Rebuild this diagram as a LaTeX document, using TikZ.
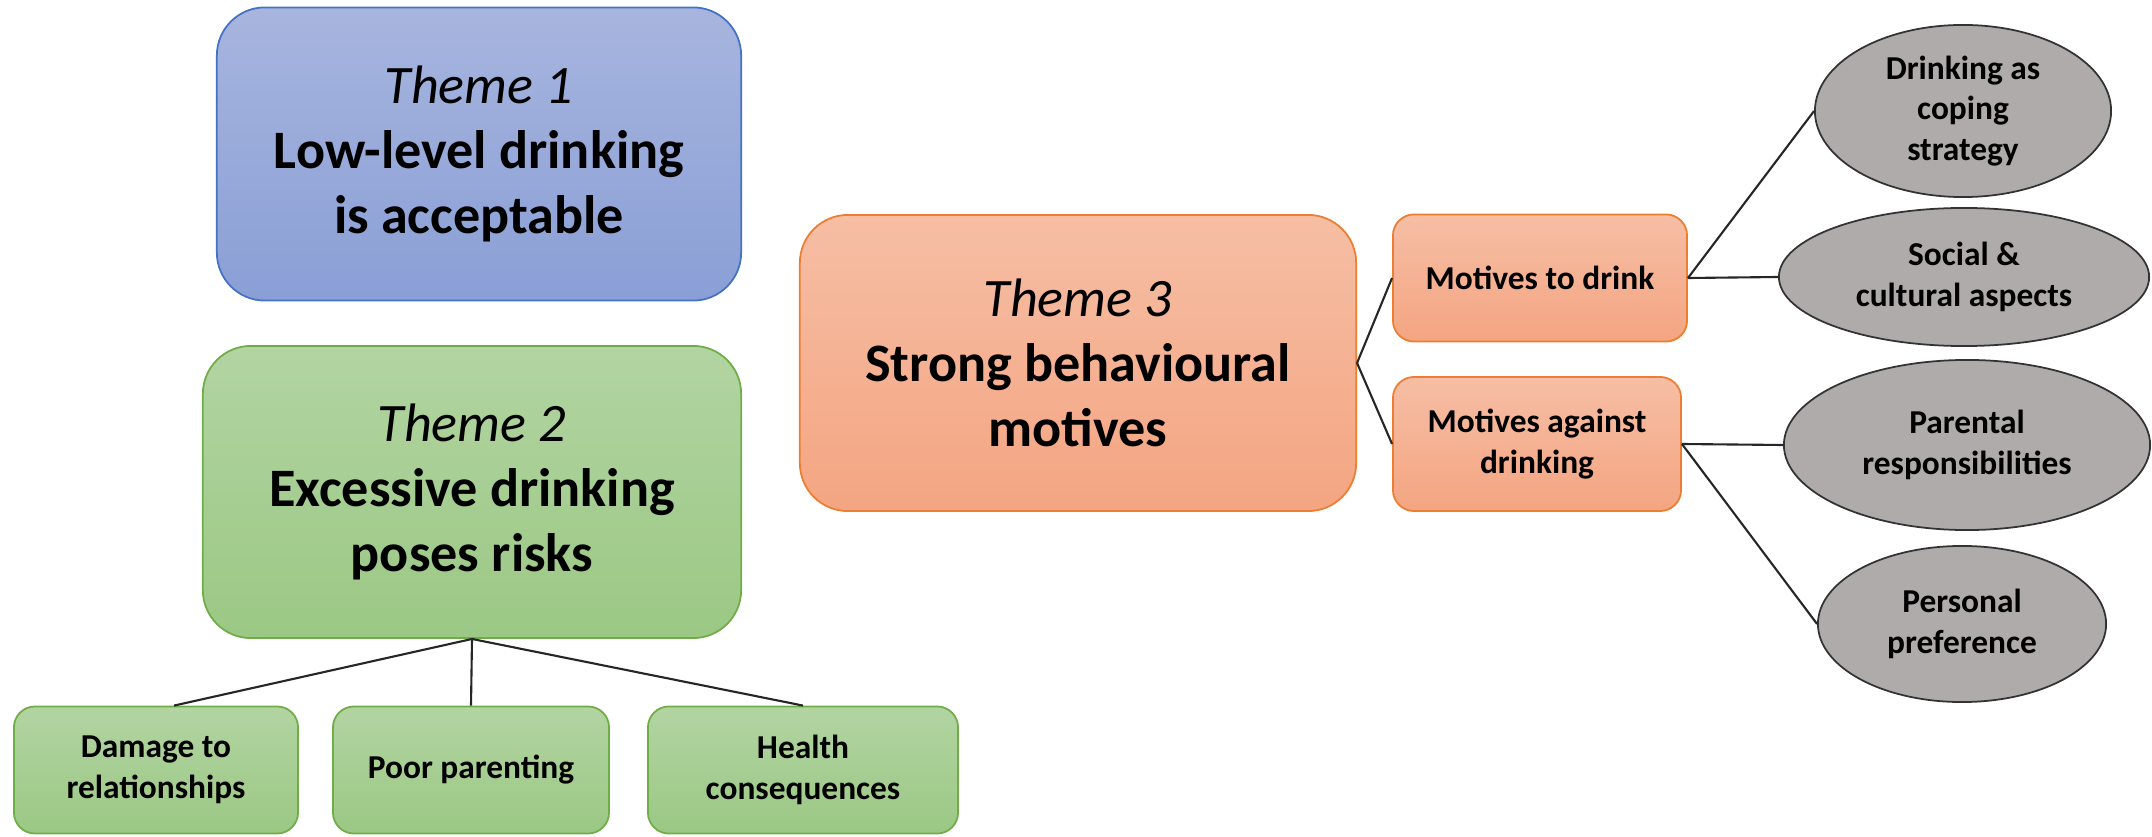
\documentclass[tikz,border=0pt]{standalone}
\usepackage{fontspec}
\setmainfont{Carlito}
\usetikzlibrary{positioning,shapes.geometric}
\definecolor{blu}{HTML}{4472C4}
\definecolor{grn}{HTML}{70AD47}
\definecolor{org}{HTML}{ED7D31}
\definecolor{bluT}{HTML}{A7B5DE}
\definecolor{bluB}{HTML}{8A9FD6}
\definecolor{grnT}{HTML}{B2D4A2}
\definecolor{grnB}{HTML}{9BC884}
\definecolor{orgT}{HTML}{F6BEA4}
\definecolor{orgB}{HTML}{F4A582}
\definecolor{lf}{HTML}{AFABAB}

\begin{document}
\begin{tikzpicture}[x=0.01cm,y=-0.01cm,
  theme/.style={rounded corners=0.48cm,line width=0.5pt,inner sep=0pt,align=center,
    font=\fontsize{15.4}{18.4}\selectfont},
  sub/.style={rounded corners=0.21cm,line width=0.5pt,inner sep=0pt,align=center,
    font=\bfseries\fontsize{9.5}{11.6}\selectfont},
  leaf/.style={ellipse,draw=black!80,fill=lf,line width=0.5pt,inner sep=0pt,align=center,
    font=\bfseries\fontsize{9.5}{11.6}\selectfont},
  bluebox/.style={draw=blu,top color=bluT,bottom color=bluB},
  grnbox/.style={draw=grn,top color=grnT,bottom color=grnB},
  orgbox/.style={draw=org,top color=orgT,bottom color=orgB},
  link/.style={black!85,line width=0.6pt}]
  \useasboundingbox (0,0) rectangle (2152,837);

  % themes
  \node[theme,bluebox,minimum width=5.24cm,minimum height=2.93cm] (t1) at (479,154)
    {\textit{Theme 1}\\\textbf{Low-level drinking}\\\textbf{is acceptable}};
  \node[theme,grnbox,minimum width=5.38cm,minimum height=2.92cm] (t2) at (472,492)
    {\textit{Theme 2}\\\textbf{Excessive drinking}\\\textbf{poses risks}};
  \node[theme,orgbox,minimum width=5.56cm,minimum height=2.96cm] (t3) at (1078,363)
    {\textit{Theme 3}\\\textbf{Strong behavioural}\\\textbf{motives}};

  % risks under theme 2
  \node[sub,grnbox,minimum width=2.84cm,minimum height=1.27cm] (dmg) at (156,770)
    {Damage to\\relationships};
  \node[sub,grnbox,minimum width=2.76cm,minimum height=1.27cm] (par) at (471,770)
    {Poor parenting};
  \node[sub,grnbox,minimum width=3.10cm,minimum height=1.27cm] (hlt) at (803,770)
    {Health\\consequences};

  % motives
  \node[sub,orgbox,minimum width=2.94cm,minimum height=1.27cm] (pro) at (1540,278)
    {Motives to drink};
  \node[sub,orgbox,minimum width=2.88cm,minimum height=1.34cm] (con) at (1537,444)
    {Motives against\\drinking};

  % reasons
  \node[leaf,minimum width=2.96cm,minimum height=1.72cm] (cope) at (1963,111)
    {Drinking as\\coping\\strategy};
  \node[leaf,minimum width=3.70cm,minimum height=1.38cm] (soc) at (1964,277)
    {Social \&\\cultural aspects};
  \node[leaf,minimum width=3.66cm,minimum height=1.70cm] (resp) at (1967,445)
    {Parental\\responsibilities};
  \node[leaf,minimum width=2.88cm,minimum height=1.56cm] (pref) at (1962,624)
    {Personal\\preference};

  % connectors
  \draw[link] (t2.south) -- ([xshift=0.18cm]dmg.north);
  \draw[link] (t2.south) -- (par.north);
  \draw[link] (t2.south) -- (hlt.north);
  \draw[link] (t3.east) -- (pro.west);
  \draw[link] (t3.east) -- (con.west);
  \draw[link] (pro.east) -- (cope.west);
  \draw[link] (pro.east) -- (soc.west);
  \draw[link] (con.east) -- (resp.west);
  \draw[link] (con.east) -- (pref.west);
\end{tikzpicture}
\end{document}
